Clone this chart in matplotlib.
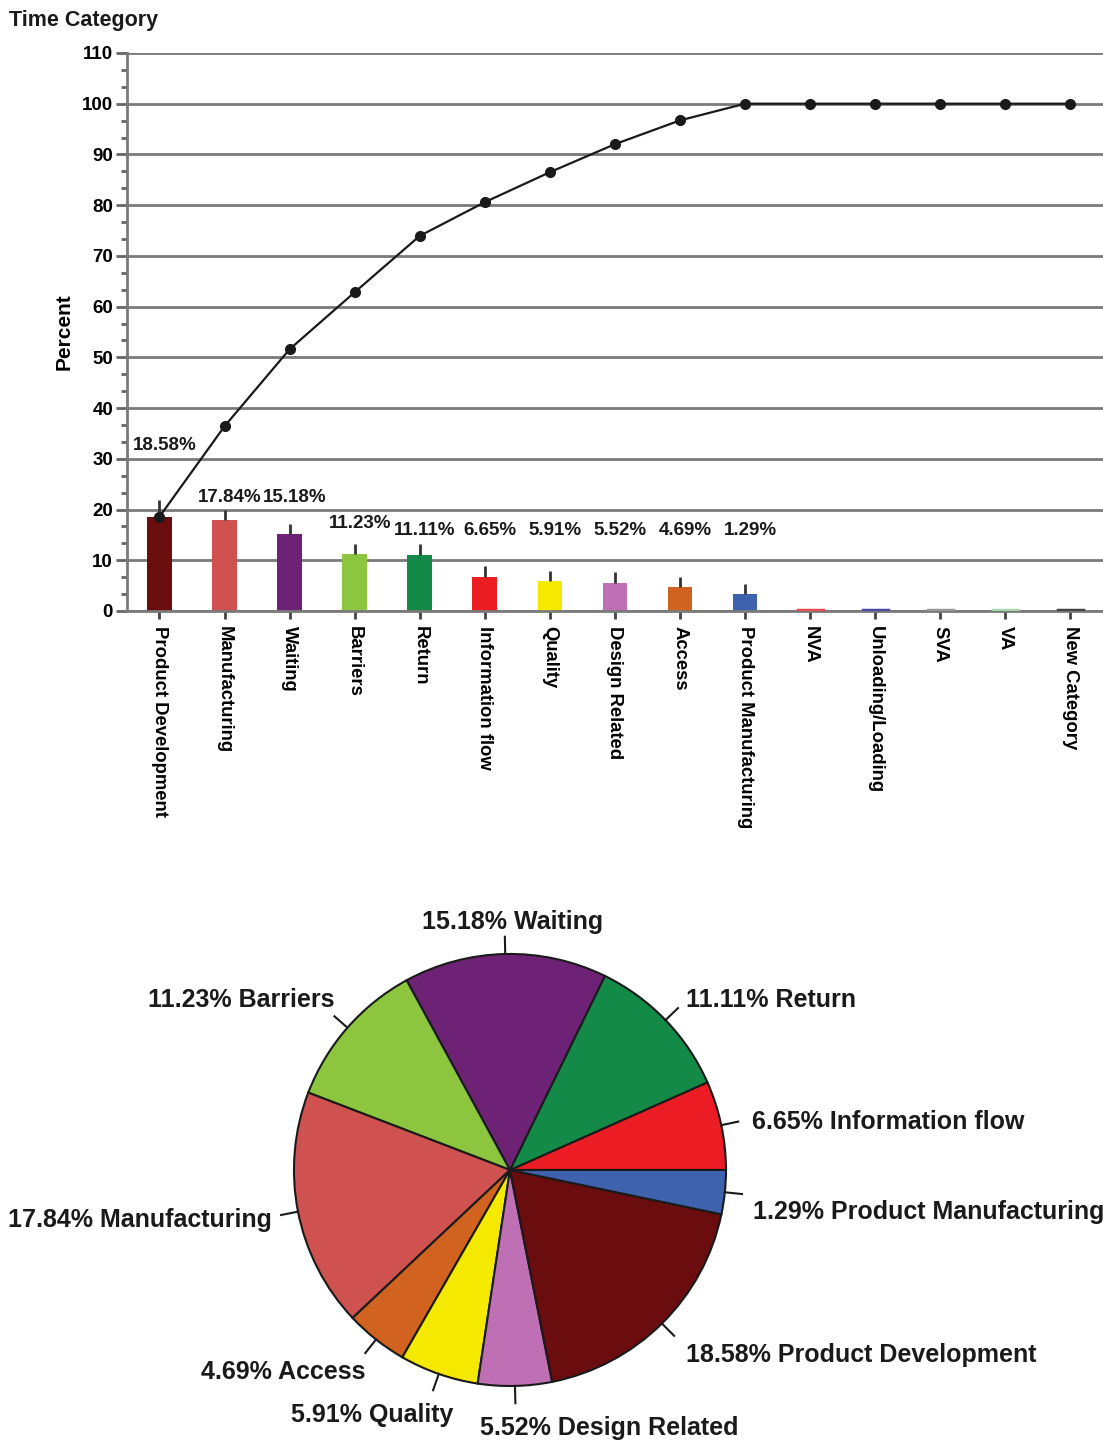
import numpy as np
import matplotlib
matplotlib.use('Agg')
import matplotlib.pyplot as plt

plt.rcParams['font.family'] = ['Liberation Sans Narrow', 'Liberation Sans', 'DejaVu Sans']
plt.rcParams['font.weight'] = 'bold'
plt.rcParams['axes.labelweight'] = 'bold'

# categories in pareto order
categories = ['Product Development', 'Manufacturing', 'Waiting', 'Barriers', 'Return',
              'Information flow', 'Quality', 'Design Related', 'Access', 'Product Manufacturing',
              'NVA', 'Unloading/Loading', 'SVA', 'VA', 'New Category']
values = [18.58, 17.84, 15.18, 11.23, 11.11, 6.65, 5.91, 5.52, 4.69, 3.29,
          0, 0, 0, 0, 0]
errors = [3.2, 2.0, 2.0, 2.0, 2.1, 2.2, 1.9, 2.2, 2.1, 2.0, 0, 0, 0, 0, 0]
pct_labels = ['18.58%', '17.84%', '15.18%', '11.23%', '11.11%', '6.65%', '5.91%',
              '5.52%', '4.69%', '1.29%']
colors = ['#6b0c0e', '#cf5250', '#6e2276', '#8cc63e', '#148a48', '#ec1c24', '#f5e900',
          '#bf6fb4', '#d1621f', '#3f62ae', '#e84c4c', '#4a4aa8', '#9a9a9a', '#a8d8b0', '#444444']

# pie order (counterclockwise from 3 o'clock)
pie_names = ['Information flow', 'Return', 'Waiting', 'Barriers', 'Manufacturing',
             'Access', 'Quality', 'Design Related', 'Product Development', 'Product Manufacturing']

cumulative = np.cumsum(values)
cumulative = np.minimum(cumulative, 100)

fig = plt.figure(figsize=(11.03, 14.43), dpi=100, facecolor='white')

#   ---------- pareto chart ----------
ax = fig.add_axes([0.1151, 0.5766, 0.8849, 0.3867])
x = np.arange(len(categories))
ax.set_axisbelow(True)
ax.yaxis.grid(True, color='#7a7a7a', linewidth=2)
bars = ax.bar(x, values, width=0.38, color=colors, zorder=2)
for i in range(10, 15):
    ax.plot([x[i] - 0.19, x[i] + 0.19], [0.15, 0.15], color=colors[i], lw=2.5, zorder=3)
ax.errorbar(x[:10], values[:10], yerr=[np.zeros(10), errors[:10]], fmt='none',
            ecolor='#333333', elinewidth=2, capsize=0, zorder=3)
ax.plot(x, cumulative, color='#1a1a1a', lw=1.6, marker='o', markersize=7, zorder=4)

# value labels above bars
label_y = [32.7, 22.3, 22.3, 17.2, 15.8, 15.8, 15.8, 15.8, 15.8, 15.8]
for i, txt in enumerate(pct_labels):
    ax.text(x[i] + 0.08, label_y[i], txt, ha='center', va='center', fontsize=13.5,
            color='#1a1a1a', zorder=5)

ax.set_xlim(-0.5, 14.5)
ax.set_ylim(0, 110)
ax.set_yticks(np.arange(0, 111, 10))
ax.set_yticks(np.arange(0, 110, 10 / 3), minor=True)
ax.set_xticks(x)
ax.set_xticklabels(categories, rotation=270, ha='center', va='top', fontsize=13.3)
ax.tick_params(axis='y', which='major', length=8, width=2, color='#666666', labelsize=13.5, pad=2)
ax.tick_params(axis='y', which='minor', length=4, width=2, color='#666666')
ax.tick_params(axis='x', length=6, width=2, color='#444444', pad=5)
for s in ['top', 'right']:
    ax.spines[s].set_visible(False)
ax.spines['left'].set_color('#7a7a7a')
ax.spines['left'].set_linewidth(2)
ax.spines['bottom'].set_color('#7a7a7a')
ax.spines['bottom'].set_linewidth(2)
ax.set_ylabel('Percent', fontsize=15, labelpad=6)
fig.text(0.008, 0.986, 'Time Category', fontsize=15.5, ha='left', va='center', color='#1a1a1a')

#   ---------- pie chart ----------
pax = fig.add_axes([0.2665, 0.0395, 0.3917, 0.2994])
pie_vals = [values[categories.index(n)] for n in pie_names]
pie_cols = [colors[categories.index(n)] for n in pie_names]
pie_lbls = [pct_labels[categories.index(n)] + ' ' + n for n in pie_names]
wedges, _ = pax.pie(pie_vals, colors=pie_cols, startangle=0, counterclock=True,
                    wedgeprops=dict(edgecolor='#1a1a1a', linewidth=1.5))
pax.set_xlim(-1, 1)
pax.set_ylim(-1, 1)
pax.set_aspect('equal')

# text anchor positions (radius units) and alignment
text_pos = [(1.12, 0.222, 'left'), (0.815, 0.787, 'left'), (0.014, 1.148, 'center'),
            (-0.81, 0.787, 'right'), (-1.10, -0.231, 'right'), (-0.671, -0.935, 'right'),
            (-0.26, -1.134, 'right'), (-0.139, -1.194, 'left'), (0.815, -0.856, 'left'),
            (1.125, -0.194, 'left')]
for w, lbl, (tx, ty, ha) in zip(wedges, pie_lbls, text_pos):
    ang = np.deg2rad((w.theta1 + w.theta2) / 2)
    c, s = np.cos(ang), np.sin(ang)
    pax.plot([c, 1.08 * c], [s, 1.08 * s], color='#1a1a1a', lw=1.5, clip_on=False)
    pax.text(tx, ty, lbl, ha=ha, va='center', fontsize=18, color='#1a1a1a', clip_on=False)

plt.savefig('out.png', dpi=100, facecolor='white')
